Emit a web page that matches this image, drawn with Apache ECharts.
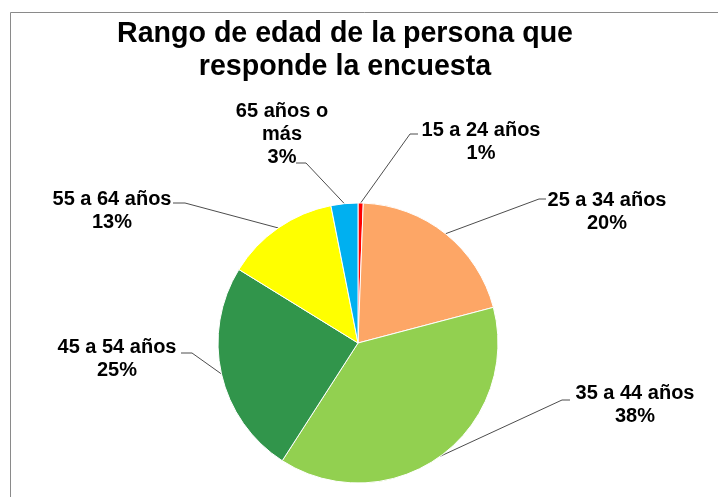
<!DOCTYPE html>
<html><head><meta charset="utf-8">
<script src="https://cdn.jsdelivr.net/npm/echarts@6/dist/echarts.min.js"></script>
<style>html,body{margin:0;padding:0;background:#fff}#main{width:718px;height:497px}</style>
</head><body><div id="main"></div>
<script>
// ---- data ----
const categories = ['15 a 24 años', '25 a 34 años', '35 a 44 años', '45 a 54 años', '55 a 64 años', '65 años o\nmás'];
const values = [0.6, 20.3, 38.2, 24.7, 13.1, 3.1];
const colors = ['#FF0000', '#FDA666', '#92D050', '#31954B', '#FFFF00', '#00B0F0'];
const titleText = 'Rango de edad de la persona que\nresponde la encuesta';

// ---- label placement (text block centre, leader bend, leader end) ----
const labelPlacement = [
  { c: [481, 141.5], bend: [410, 134], end: [418, 134] },
  { c: [607, 212], bend: [539, 199], end: [546, 199] },
  { c: [635, 404.5], bend: [562, 400], end: [570, 400] },
  { c: [117, 359], bend: [192, 353], end: [181, 353] },
  { c: [112, 211], bend: [185, 203], end: [173, 203] },
  { c: [282, 134], bend: [306, 163], end: [296, 163] }
];

const FONT = '"Liberation Sans", Arial, sans-serif';
const chart = echarts.init(document.getElementById('main'), null, { renderer: 'canvas' });
chart.setOption({
  backgroundColor: '#ffffff',
  animation: false,
  graphic: [
    { type: 'rect', silent: true, z: -10,
      shape: { x: 10.5, y: 12.5, width: 760, height: 540 },
      style: { fill: 'none', stroke: '#8a8a8a', lineWidth: 1 } },
    { type: 'text', silent: true,
      style: { text: titleText, x: 345, y: 51, textAlign: 'center', textVerticalAlign: 'middle',
        font: 'bold 28.6px ' + FONT, lineHeight: 33, fill: '#000' } }
  ],
  series: [{
    type: 'pie',
    center: [358, 343],
    radius: 140,
    startAngle: 90,
    clockwise: true,
    avoidLabelOverlap: false,
    emphasis: { disabled: true },
    data: categories.map((n, i) => ({ name: n, value: values[i], itemStyle: { color: colors[i] } })),
    itemStyle: { borderColor: '#ffffff', borderWidth: 1 },
    label: {
      show: true,
      position: 'outside',
      formatter: p => p.name + '\n' + Math.round(p.percent) + '%',
      fontFamily: FONT,
      fontWeight: 'bold',
      fontSize: 20,
      lineHeight: 23,
      color: '#000'
    },
    labelLine: { show: true, length: 20, length2: 10, lineStyle: { color: '#4d4d4d', width: 1 } },
    labelLayout: function (params) {
      const lp = labelPlacement[params.dataIndex];
      const pts = params.labelLinePoints;
      return {
        x: lp.c[0], y: lp.c[1],
        align: 'center', verticalAlign: 'middle',
        labelLinePoints: [pts[0], lp.bend, lp.end]
      };
    }
  }]
});
</script></body></html>
